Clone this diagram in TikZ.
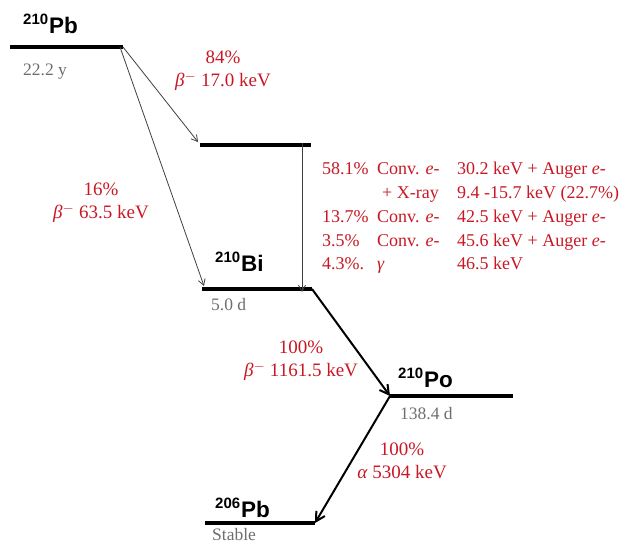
\documentclass[tikz,border=0pt]{standalone}
\usepackage{fontspec}
\setmainfont{Liberation Serif}
\newfontfamily\isofont{Liberation Sans}
\usetikzlibrary{arrows.meta}

\definecolor{decayred}{RGB}{200,24,36}
\definecolor{halfgray}{RGB}{110,110,110}

% isotope label: mass number and symbol
\newcommand{\iso}[2]{{\isofont\bfseries\raisebox{9pt}{\fontsize{15}{15}\selectfont #1}\kern1pt\fontsize{22.5}{22.5}\selectfont #2}}
% beta minus
\newcommand{\bminus}{\textit{β}$^{\mathbf{-}}$}

\tikzset{
  level/.style={line width=3.5pt},
  thin decay/.style={draw=black!75, line width=0.8pt, -{Straight Barb[length=6pt,width=7pt]}},
  thick decay/.style={draw=black, line width=2pt, -{Straight Barb[length=9pt,width=10pt]}},
  branch/.style={text=decayred, font=\fontsize{19}{23.5}\selectfont, align=center, inner sep=0pt},
  halflife/.style={text=halfgray, font=\fontsize{17.5}{17.5}\selectfont, anchor=base west, inner sep=0pt},
  isotope/.style={anchor=base west, inner sep=0pt},
}

\begin{document}
\begin{tikzpicture}[x=1pt,y=-1pt]
  \useasboundingbox (0,0) rectangle (629,545);

  % energy levels
  \coordinate (pbL) at (10,47);    \coordinate (pbR) at (123,47);
  \coordinate (exL) at (200,145);  \coordinate (exR) at (311,145);
  \coordinate (biL) at (202,289);  \coordinate (biR) at (312,289);
  \coordinate (poL) at (390,396);  \coordinate (poR) at (513,396);
  \coordinate (stL) at (205,523);  \coordinate (stR) at (315,523);
  \coordinate (exD) at (302,145);  \coordinate (biD) at (302,289);

  \draw[level] (pbL) -- (pbR);
  \draw[level] (exL) -- (exR);
  \draw[level] (biL) -- (biR);
  \draw[level] (poL) -- (poR);
  \draw[level] (stL) -- (stR);

  % isotope names and half-lives
  \node[isotope] (pbname) at (23,34) {\iso{210}{Pb}};
  \node[halflife] (pbhalf) at (23,76) {22.2 y};
  \node[isotope] (biname) at (215,272) {\iso{210}{Bi}};
  \node[halflife] (bihalf) at (211,310) {5.0 d};
  \node[isotope] (poname) at (398,387) {\iso{210}{Po}};
  \node[halflife] (pohalf) at (400,419) {138.4 d};
  \node[isotope] (stname) at (215,517) {\iso{206}{Pb}};
  \node[halflife] (sthalf) at (212,540) {Stable};

  % decays
  \draw[thin decay] (pbR) -- ([shift={(-2,-3)}]exL);
  \draw[thin decay] ([xshift=-3pt]pbR) -- ([shift={(2,-3)}]biL);
  \draw[thin decay] ([yshift=2pt]exD) -- ([yshift=-3pt]biD);
  \draw[thick decay] (biR) -- (poL);
  \draw[thick decay] (poL) -- (stR);

  % branch labels
  \node[branch] (b84) at (223,70.5) {84\%\\\bminus{} 17.0 keV};
  \node[branch] (b16) at (101,202.5) {16\%\\\bminus{} 63.5 keV};
  \node[branch] (b100) at (301,360.5) {100\%\\\bminus{} 1161.5 keV};
  \node[branch] (a100) at (402,461) {100\%\\\textit{α} 5304 keV};

  % internal conversion table
  \node[text=decayred, anchor=base west, inner sep=0pt,
        font=\fontsize{18}{23.7}\selectfont] (conv) at (322,175) {%
    \begin{tabular}[t]{@{}p{55pt}@{}p{80pt}@{}l@{}}
      58.1\% & Conv. \textit{e}- & 30.2 keV + Auger \textit{e}-\\
             & \hspace*{5pt}+ X-ray & 9.4 -15.7 keV (22.7\%)\\
      13.7\% & Conv. \textit{e}- & 42.5 keV + Auger \textit{e}-\\
      3.5\%  & Conv. \textit{e}- & 45.6 keV + Auger \textit{e}-\\
      4.3\%. & \textit{γ} & 46.5 keV
    \end{tabular}};
\end{tikzpicture}
\end{document}
